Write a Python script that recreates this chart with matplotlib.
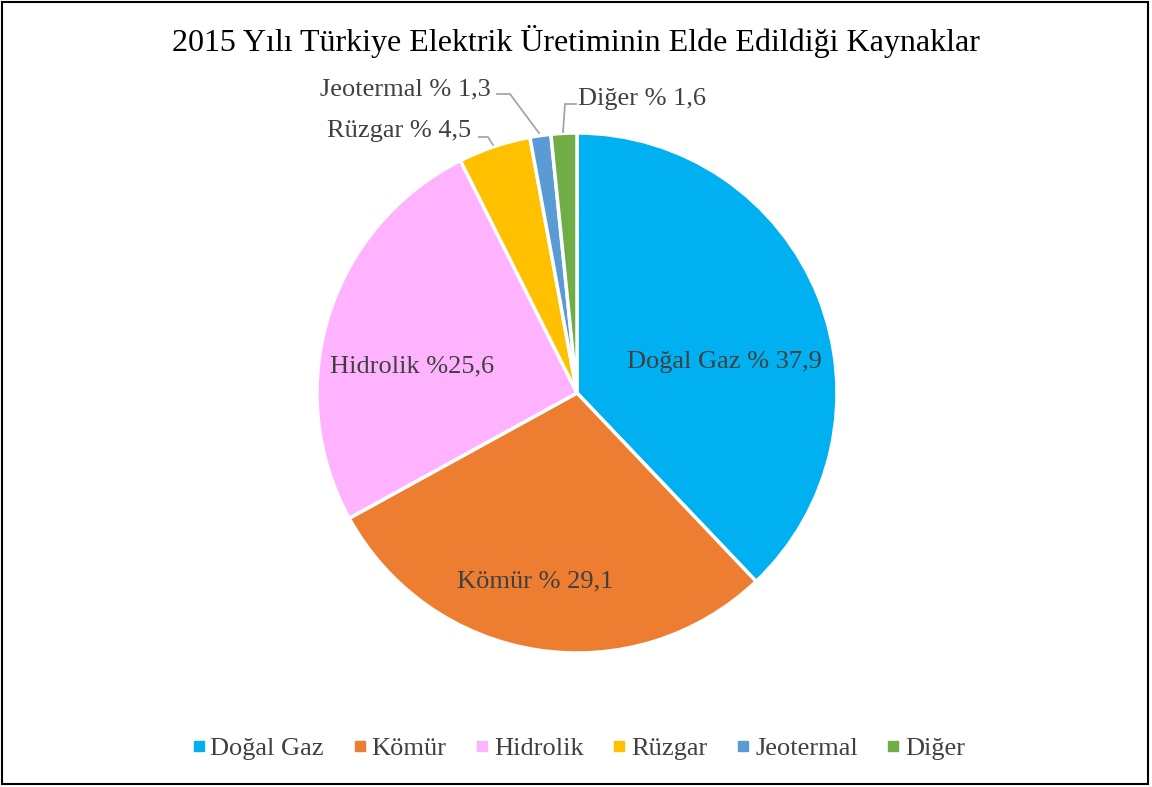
import matplotlib.pyplot as plt
from matplotlib.patches import Rectangle
from matplotlib.lines import Line2D

plt.rcParams['font.family'] = ['Liberation Serif', 'DejaVu Serif']

sources = ['Doğal Gaz', 'Kömür', 'Hidrolik', 'Rüzgar', 'Jeotermal', 'Diğer']
shares = [37.9, 29.1, 25.6, 4.5, 1.3, 1.6]
share_text = ['% 37,9', '% 29,1', '%25,6', '% 4,5', '% 1,3', '% 1,6']
colors = ['#00B0F0', '#ED7D31', '#FFB3FF', '#FFC000', '#5B9BD5', '#70AD47']

W, H = 1152, 787
fig = plt.figure(figsize=(W / 100, H / 100), dpi=100)
ax = fig.add_axes([0, 0, 1, 1])

cx, cy, r = 577, H - 393, 260
ax.pie(shares, colors=colors, startangle=90, counterclock=False,
       center=(cx, cy), radius=r, frame=True,
       wedgeprops=dict(edgecolor='white', linewidth=2.5))
ax.set_xlim(0, W)
ax.set_ylim(0, H)
ax.set_aspect('auto')
ax.axis('off')

txt_col = '#404040'
fs = 19
# inside labels
ax.text(724, H - 362, sources[0] + ' ' + share_text[0], ha='center', va='center', fontsize=fs, color=txt_col)
ax.text(535, H - 581, sources[1] + ' ' + share_text[1], ha='center', va='center', fontsize=fs, color=txt_col)
ax.text(412, H - 366, sources[2] + ' ' + share_text[2], ha='center', va='center', fontsize=fs, color=txt_col)
# outside labels with leader lines
ax.text(471, H - 131, sources[3] + ' ' + share_text[3], ha='right', va='center', fontsize=fs, color=txt_col)
ax.text(491, H - 89, sources[4] + ' ' + share_text[4], ha='right', va='center', fontsize=fs, color=txt_col)
ax.text(578, H - 99, sources[5] + ' ' + share_text[5], ha='left', va='center', fontsize=fs, color=txt_col)
lc = '#A6A6A6'
ax.plot([479, 488, 493], [H - 137, H - 137, H - 145], color=lc, lw=1.3)
ax.plot([497, 510, 539], [H - 94, H - 94, H - 133], color=lc, lw=1.3)
ax.plot([576, 565, 563], [H - 104, H - 104, H - 132], color=lc, lw=1.3)

fig.text(0.5, (H - 42) / H, '2015 Yılı Türkiye Elektrik Üretiminin Elde Edildiği Kaynaklar',
         ha='center', va='center', fontsize=23, color='black')

handles = [Line2D([], [], marker='s', linestyle='none', markersize=7.5,
                  markerfacecolor=c, markeredgecolor=c) for c in colors]
fig.legend(handles, sources, loc='center', bbox_to_anchor=(0.5, (H - 748) / H),
           ncol=6, frameon=False, fontsize=19, labelcolor=txt_col,
           handletextpad=0.0, columnspacing=0.9, handlelength=0.9)

fig.patches.append(Rectangle((2 / W, 3 / H), 1146 / W, 782 / H, transform=fig.transFigure,
                             fill=False, edgecolor='black', linewidth=1.5))

fig.savefig('out.png', dpi=100)
